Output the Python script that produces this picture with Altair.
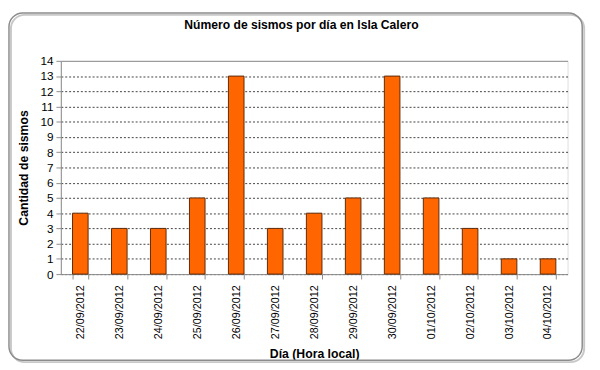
import altair as alt
import pandas as pd

fechas = ["22/09/2012", "23/09/2012", "24/09/2012", "25/09/2012", "26/09/2012",
          "27/09/2012", "28/09/2012", "29/09/2012", "30/09/2012", "01/10/2012",
          "02/10/2012", "03/10/2012", "04/10/2012"]
sismos = [4, 3, 3, 5, 13, 3, 4, 5, 13, 5, 3, 1, 1]
y_ticks = list(range(0, 15))

df = pd.DataFrame({"fecha": fechas, "n": sismos})
FONT = "Liberation Sans"
one = pd.DataFrame({"a": [0]})

shadow = alt.Chart(one).mark_rect(
    fill=None, stroke="#c8c8c8", strokeWidth=2, cornerRadius=14
).encode(x=alt.value(-51), x2=alt.value(535), y=alt.value(-47), y2=alt.value(308))

frame = alt.Chart(one).mark_rect(
    fill=None, stroke="#8c8c8c", strokeWidth=1.5, cornerRadius=14
).encode(x=alt.value(-53), x2=alt.value(533), y=alt.value(-49), y2=alt.value(306))

bars = alt.Chart(df).mark_bar(
    color="#FF6600", stroke="#5a2a0a", strokeWidth=1
).encode(
    x=alt.X("fecha:N", sort=fechas, scale=alt.Scale(paddingInner=0.6, paddingOuter=0.3),
            axis=alt.Axis(title="Día (Hora local)", labelAngle=-90, tickBand="extent",
                          labelFontSize=11, labelColor="#000", labelPadding=6,
                          titleFontSize=12.5, titleFontWeight="bold", titlePadding=9,
                          domainColor="#8c8c8c", tickColor="#8c8c8c", tickSize=5,
                          labelFont=FONT, titleFont=FONT)),
    y=alt.Y("n:Q", scale=alt.Scale(domain=[0, 14], nice=False),
            axis=alt.Axis(title="Cantidad de sismos", values=y_ticks,
                          labelFontSize=12, labelColor="#000", labelPadding=3,
                          titleFontSize=12.5, titleFontWeight="bold", titlePadding=10,
                          domainColor="#8c8c8c", tickColor="#8c8c8c", tickSize=5,
                          grid=True,
                          gridColor={"condition": {"test": "datum.value >= 14", "value": "#8c8c8c"}, "value": "#404040"},
                          gridDash={"condition": {"test": "datum.value >= 14", "value": []}, "value": [2, 2]},
                          labelFont=FONT, titleFont=FONT))
)

chart = alt.layer(shadow, frame, bars).properties(
    width=518, height=218,
    title=alt.TitleParams("Número de sismos por día en Isla Calero", fontSize=12.4,
                          fontWeight="bold", font=FONT, dx=-13, offset=-20, color="#000"),
    autosize=alt.AutoSizeParams(type="none"),
    padding={"left": 54, "top": 50, "right": 25, "bottom": 94},
).configure_view(stroke="#8c8c8c", strokeWidth=1).configure(background="white")

chart.save("out.html", embed_options={"renderer": "svg", "actions": False})
